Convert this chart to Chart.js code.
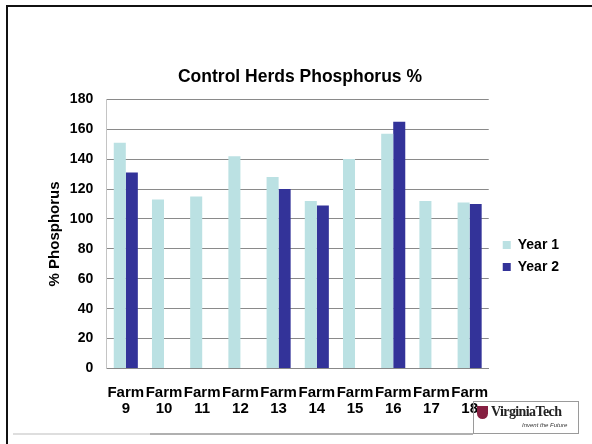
<!DOCTYPE html>
<html>
<head>
<meta charset="utf-8">
<script src="https://cdn.jsdelivr.net/npm/chart.js@4"></script>
<style>
  html, body { margin: 0; padding: 0; background: #fff; }
  body { width: 592px; height: 444px; position: relative; overflow: hidden; font-family: "Liberation Sans", Arial, sans-serif; }
  #frame { position: absolute; left: 6px; top: 5px; width: 700px; height: 600px; border-top: 2.5px solid #111; border-left: 2.5px solid #111; }
  #lineA { position: absolute; left: 13px; top: 433px; width: 137px; height: 2px; background: #dedede; }
  #lineB { position: absolute; left: 150px; top: 433px; width: 323px; height: 2px; background: #b0b0b0; }
  #wrap { position: absolute; left: 31px; top: 50px; width: 538px; height: 364px; }
  #logo { position: absolute; left: 473px; top: 401px; width: 104px; height: 31px; border: 1px solid #9a9a9a; background: transparent; }
  #shield { position: absolute; left: 3px; top: 4px; width: 11px; height: 13px; background: #861F41; border-radius: 0 0 6px 6px; }
  #vt { position: absolute; left: 17px; top: 2px; font-family: "Liberation Serif", "DejaVu Serif", serif; font-weight: bold; font-size: 14px; letter-spacing: -0.6px; color: #222; white-space: nowrap; }
  #tag { position: absolute; left: 48px; top: 20px; font-family: "Liberation Sans", sans-serif; font-size: 6px; color: #333; white-space: nowrap; font-style: italic; }
</style>
</head>
<body>
<div id="frame"></div>
<div id="lineA"></div>
<div id="lineB"></div>
<div id="wrap"><canvas id="c" width="538" height="364"></canvas></div>
<div id="logo"><div id="shield"></div><div id="vt">VirginiaTech</div><div id="tag">Invent the Future</div></div>
<script>
const chartTitle = 'Control Herds Phosphorus %';
const yAxisTitle = '% Phosphorus';
const categories = ['Farm 9', 'Farm 10', 'Farm 11', 'Farm 12', 'Farm 13', 'Farm 14', 'Farm 15', 'Farm 16', 'Farm 17', 'Farm 18'];
const seriesNames = ['Year 1', 'Year 2'];
const year1 = [151, 113, 115, 142, 128, 112, 140, 157, 112, 111];
const year2 = [131, null, null, null, 120, 109, null, 165, null, 110];
const yMin = 0;
const yMax = 180;
const yStep = 20;

const FONT = '"Liberation Sans", Arial, sans-serif';

new Chart(document.getElementById('c'), {
  type: 'bar',
  data: {
    labels: categories.map(c => c.split(' ')),
    datasets: [
      { label: seriesNames[0], data: year1, backgroundColor: '#BBE1E3', borderWidth: 0 },
      { label: seriesNames[1], data: year2, backgroundColor: '#333399', borderWidth: 0 }
    ]
  },
  options: {
    responsive: false,
    animation: false,
    devicePixelRatio: 1,
    layout: { padding: 0 },
    datasets: { bar: { categoryPercentage: 0.63, barPercentage: 1.0 } },
    plugins: {
      title: {
        display: true,
        text: chartTitle,
        color: '#000',
        font: { family: FONT, size: 17.5, weight: 'bold', lineHeight: 1.2 },
        padding: { top: 16.5, bottom: 11.8 }
      },
      legend: {
        display: true,
        position: 'right',
        title: { display: true, text: '', padding: { top: 36, bottom: 0 }, font: { size: 10, lineHeight: 1.2 } },
        labels: {
          color: '#000',
          boxWidth: 8,
          boxHeight: 8,
          padding: 8,
          font: { family: FONT, size: 14, weight: 'bold' }
        }
      },
      tooltip: { enabled: false }
    },
    scales: {
      x: {
        grid: { display: false, drawTicks: false },
        border: { display: true, color: '#888888', width: 1 },
        ticks: {
          color: '#000',
          maxRotation: 0,
          minRotation: 0,
          autoSkip: false,
          padding: 16.5,
          font: { family: FONT, size: 15, weight: 'bold', lineHeight: 1.05 }
        },
        afterFit: s => { s.height = 45.5; }
      },
      y: {
        min: yMin,
        max: yMax,
        grid: { color: '#8a8a8a', lineWidth: 1, drawTicks: false },
        border: { display: true, color: '#c4c4c4', width: 1 },
        ticks: {
          stepSize: yStep,
          color: '#000',
          padding: 13.5,
          font: { family: FONT, size: 14, weight: 'bold' }
        },
        title: {
          display: true,
          text: yAxisTitle,
          color: '#000',
          font: { family: FONT, size: 15, weight: 'bold', lineHeight: 1.2 },
          padding: { top: 15, bottom: 5.8 }
        },
        afterFit: s => { s.width = 75.7; }
      },
      yRight: {
        type: 'linear',
        position: 'right',
        display: true,
        grid: { display: false, drawOnChartArea: false, drawTicks: false },
        border: { display: false },
        ticks: { display: false },
        afterFit: s => { s.width = 6; }
      }
    }
  }
});
</script>
</body>
</html>
